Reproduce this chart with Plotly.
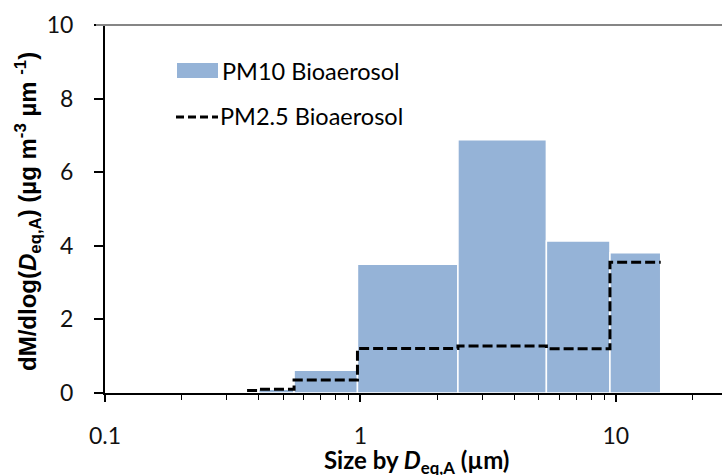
import plotly.graph_objects as go

# ---- data ----
pm10_edges = [0.40, 0.55, 0.974, 2.41, 5.35, 9.49, 15.0]
pm10_values = [0.10, 0.62, 3.50, 6.88, 4.13, 3.81]

pm25_edges = [0.36, 0.40, 0.55, 0.974, 2.41, 5.35, 9.49, 15.0]
pm25_values = [0.07, 0.10, 0.35, 1.21, 1.28, 1.20, 3.55]

x_tick_vals = [0.1, 1, 10]
x_tick_text = ["0.1", "1", "10"]
x_minor_vals = [0.2, 0.3, 0.4, 0.5, 0.6, 0.7, 0.8, 0.9,
                2, 3, 4, 5, 6, 7, 8, 9, 20]
y_tick_vals = [0, 2, 4, 6, 8, 10]

BAR_COLOR = "#95B3D7"
W, H = 722, 475
L, R, T, B = 105, 0, 25, 82
PW, PH = W - L - R, H - T - B


def px(x):
    return (x - L) / PW


def py(y):
    return (H - B - y) / PH


fig = go.Figure()

# PM10 bars as filled rectangles drawn on the log axis
for i, v in enumerate(pm10_values):
    x0, x1 = pm10_edges[i], pm10_edges[i + 1]
    fig.add_trace(go.Scatter(
        x=[x0, x0, x1, x1, x0], y=[0, v, v, 0, 0],
        mode="lines", fill="toself", fillcolor=BAR_COLOR,
        line=dict(color="white", width=1.5),
        showlegend=False, hoverinfo="skip"))

# PM2.5 step line
fig.add_trace(go.Scatter(
    x=pm25_edges, y=pm25_values + [pm25_values[-1]],
    mode="lines", line=dict(color="black", width=3, dash="10px,4px", shape="hv"),
    showlegend=False))

font_main = "Lato, 'Open Sans', sans-serif"

fig.update_layout(
    width=W, height=H,
    margin=dict(l=L, r=R, t=T, b=B, pad=0),
    plot_bgcolor="white", paper_bgcolor="white",
    font=dict(family=font_main, size=23, color="#111"),
    showlegend=False,
    xaxis=dict(
        type="log", range=[-1, 1.416],
        tickvals=x_tick_vals, ticktext=x_tick_text,
        ticks="outside", ticklen=7, tickwidth=1.5, tickcolor="black",
        showline=True, linewidth=2, linecolor="black",
        showgrid=False, zeroline=False,
        ticklabelstandoff=14,
        minor=dict(tickvals=x_minor_vals, ticks="outside", ticklen=5,
                   tickwidth=1, tickcolor="black", showgrid=False),
    ),
    yaxis=dict(
        range=[0, 10], tickvals=y_tick_vals,
        ticks="outside", ticklen=9, tickwidth=1.5, tickcolor="black",
        showline=True, linewidth=2, linecolor="black",
        showgrid=False, zeroline=False,
        ticklabelstandoff=16,
    ),
)

# top border line at y = 10
fig.add_shape(type="line", xref="paper", yref="paper",
              x0=px(96), x1=1, y0=1, y1=1,
              line=dict(color="#868686", width=2))

# axis titles
fig.add_annotation(
    xref="paper", yref="paper", x=px(28), y=py(212),
    text="<b>dM/dlog(<i>D</i><sub>eq,A</sub>) (µg m<sup>-3</sup> µm <sup>-1</sup>)</b>",
    textangle=-90, showarrow=False, xanchor="center", yanchor="middle",
    font=dict(family="Liberation Sans, Arial, sans-serif", size=24, color="black"))

fig.add_annotation(
    xref="paper", yref="paper", x=px(417), y=py(461),
    text="<b>Size by <i>D</i><sub>eq,A</sub> (µm)</b>",
    showarrow=False, xanchor="center", yanchor="middle",
    font=dict(family=font_main, size=24, color="black"))

# legend (manual)
fig.add_shape(type="rect", xref="paper", yref="paper",
              x0=px(177), x1=px(218), y0=py(78), y1=py(63),
              fillcolor=BAR_COLOR, line=dict(width=0))
fig.add_annotation(xref="paper", yref="paper", x=px(220), y=py(71),
                   text="PM10 Bioaerosol", showarrow=False,
                   xanchor="left", yanchor="middle",
                   font=dict(family=font_main, size=23.5, color="black"))
fig.add_shape(type="line", xref="paper", yref="paper",
              x0=px(176), x1=px(218), y0=py(117), y1=py(117),
              line=dict(color="black", width=3, dash="8px,4px"))
fig.add_annotation(xref="paper", yref="paper", x=px(218), y=py(116),
                   text="PM2.5 Bioaerosol", showarrow=False,
                   xanchor="left", yanchor="middle",
                   font=dict(family=font_main, size=23.5, color="black"))

fig.write_html("out.html", config={"displayModeBar": False},
               post_script="document.body.style.margin='0';document.body.style.padding='0';")
